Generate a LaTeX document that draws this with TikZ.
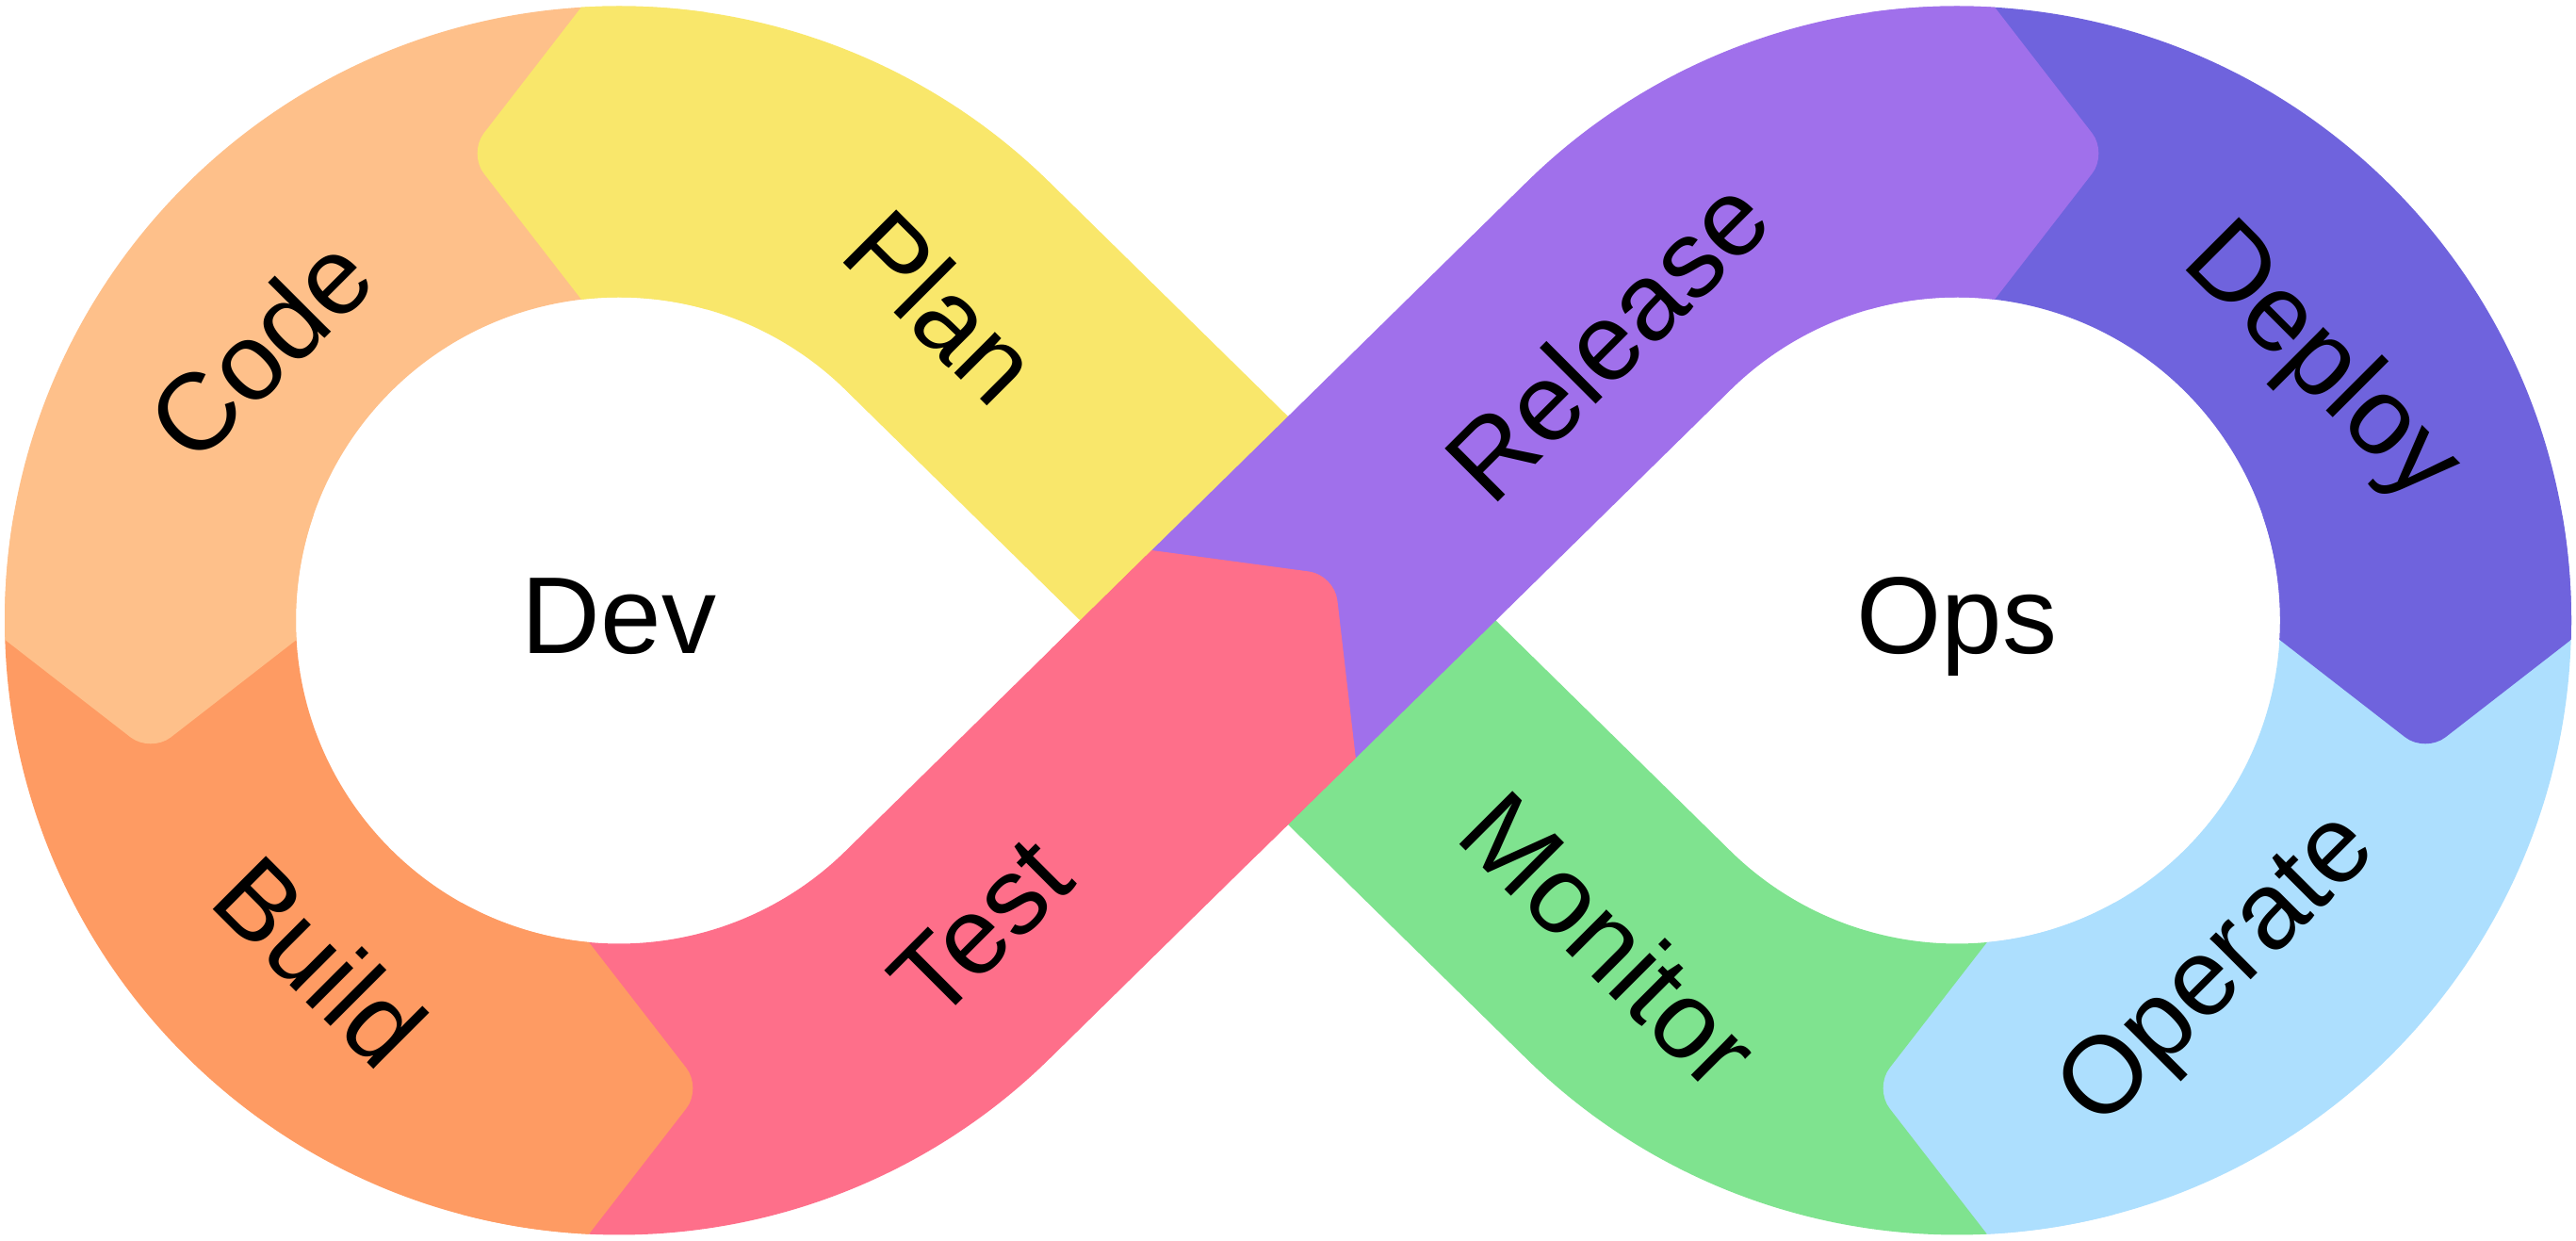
\documentclass[tikz,border=0pt]{standalone}
\usepackage{fontspec}
\setmainfont{Liberation Sans}
\definecolor{cCode}{HTML}{FEC08A}
\definecolor{cPlan}{HTML}{F9E76B}
\definecolor{cBuild}{HTML}{FE9B63}
\definecolor{cTest}{HTML}{FE6F8A}
\definecolor{cRel}{HTML}{A070EB}
\definecolor{cDep}{HTML}{6F63DD}
\definecolor{cOp}{HTML}{ADDFFE}
\definecolor{cMon}{HTML}{7FE38F}
\tikzset{
  lbl/.style={font=\fontsize{33}{40}\selectfont, text=black, inner sep=0pt},
  tip/.style={rounded corners=2.7mm}
}
\begin{document}
\begin{tikzpicture}
\useasboundingbox (0,0) rectangle (27.34,13.17);
\fill[white] (0,0) rectangle (27.34,13.17);

% loop centres and the crossing point
\coordinate (L) at (6.57,6.585);
\coordinate (R) at (20.77,6.585);
\coordinate (X) at (13.67,6.585);
% ends of the under-passing band, and the chord of the Test/Release joint
\coordinate (Pe) at (14.7526,7.6873);
\coordinate (Qe) at (12.5874,5.4827);
\coordinate (A) at (12.2235,7.3299);
\coordinate (B) at (14.3887,5.1253);

% ---- Dev loop ----
\fill[cCode] ([shift={(L)}]93.52:6.52) arc[start angle=93.52, end angle=181.80, radius=6.52]
  -- ([shift={(L)}]183.43:3.43) arc[start angle=183.43, end angle=96.70, radius=3.43] -- cycle;
\fill[cBuild] ([shift={(L)}]181.80:6.52) arc[start angle=181.80, end angle=267.19, radius=6.52]
  -- ([shift={(L)}]264.65:3.43) arc[start angle=264.65, end angle=183.43, radius=3.43] -- cycle;
\fill[cPlan] ([shift={(L)}]93.52:6.52) arc[start angle=93.52, end angle=45.516, radius=6.52]
  -- (Pe) -- (Qe)
  -- ([shift={(L)}]45.516:3.43) arc[start angle=45.516, end angle=96.70, radius=3.43] -- cycle;

% ---- Ops loop ----
\fill[cDep] ([shift={(R)}]86.48:6.52) arc[start angle=86.48, end angle=-1.80, radius=6.52]
  -- ([shift={(R)}]-3.43:3.43) arc[start angle=-3.43, end angle=83.30, radius=3.43] -- cycle;
\fill[cOp] ([shift={(R)}]-1.80:6.52) arc[start angle=-1.80, end angle=-87.19, radius=6.52]
  -- ([shift={(R)}]-84.65:3.43) arc[start angle=-84.65, end angle=-3.43, radius=3.43] -- cycle;
\fill[cMon] ([shift={(R)}]-87.19:6.52) arc[start angle=-87.19, end angle=-134.484, radius=6.52]
  -- (Qe) -- (Pe)
  -- ([shift={(R)}]-134.484:3.43) arc[start angle=-134.484, end angle=-84.65, radius=3.43] -- cycle;

% ---- the over-passing band ----
\fill[cRel] (A) -- ([shift={(R)}]134.484:6.52) arc[start angle=134.484, end angle=86.48, radius=6.52]
  -- ([shift={(R)}]83.30:3.43) arc[start angle=83.30, end angle=134.484, radius=3.43] -- (B) -- cycle;
\fill[cTest] (A) -- ([shift={(L)}]-45.516:3.43) arc[start angle=-45.516, end angle=-95.35, radius=3.43]
  -- ([shift={(L)}]-92.81:6.52) arc[start angle=-92.81, end angle=-45.516, radius=6.52] -- (B) -- cycle;

% ---- arrow-shaped joints ----
\begin{scope}
\clip ([shift={(L)}]60:6.52) arc[start angle=60,end angle=130,radius=6.52]
  -- ([shift={(L)}]130:3.43) arc[start angle=130,end angle=60,radius=3.43] -- cycle;
\fill[cPlan, tip] (4.97,11.542) -- (6.77,13.87) -- (7.5,13.87) -- (7.5,9.217) -- (6.77,9.217) -- cycle;
\end{scope}
\begin{scope}
\clip ([shift={(L)}]150:6.52) arc[start angle=150,end angle=215,radius=6.52]
  -- ([shift={(L)}]215:3.43) arc[start angle=215,end angle=150,radius=3.43] -- cycle;
\fill[cCode, tip] (1.5995,5.18) -- (3.919,6.98) -- (3.919,7.7) -- (-0.72,7.7) -- (-0.72,6.98) -- cycle;
\end{scope}
\begin{scope}
\clip ([shift={(L)}]235:6.52) arc[start angle=235,end angle=300,radius=6.52]
  -- ([shift={(L)}]300:3.43) arc[start angle=300,end angle=235,radius=3.43] -- cycle;
\fill[cBuild, tip] (7.45,1.6215) -- (5.65,3.944) -- (4.9,3.944) -- (4.9,-0.701) -- (5.65,-0.701) -- cycle;
\end{scope}
\begin{scope}
\clip ([shift={(R)}]50:6.52) arc[start angle=50,end angle=120,radius=6.52]
  -- ([shift={(R)}]120:3.43) arc[start angle=120,end angle=50,radius=3.43] -- cycle;
\fill[cRel, tip] (22.37,11.542) -- (20.57,13.87) -- (19.84,13.87) -- (19.84,9.217) -- (20.57,9.217) -- cycle;
\end{scope}
\begin{scope}
\clip ([shift={(R)}]-35:6.52) arc[start angle=-35,end angle=30,radius=6.52]
  -- ([shift={(R)}]30:3.43) arc[start angle=30,end angle=-35,radius=3.43] -- cycle;
\fill[cDep, tip] (25.7405,5.18) -- (23.421,6.98) -- (23.421,7.7) -- (28.06,7.7) -- (28.06,6.98) -- cycle;
\end{scope}
\begin{scope}
\clip ([shift={(R)}]240:6.52) arc[start angle=240,end angle=305,radius=6.52]
  -- ([shift={(R)}]305:3.43) arc[start angle=305,end angle=240,radius=3.43] -- cycle;
\fill[cOp, tip] (19.89,1.6215) -- (21.69,3.944) -- (22.44,3.944) -- (22.44,-0.701) -- (21.69,-0.701) -- cycle;
\end{scope}
\begin{scope}
\clip (14.157,9.2288) -- (16.3222,7.0242) -- (13.1830,3.9412) -- (11.0178,6.1458) -- cycle;
\fill[cTest, tip] (14.1623,7.0685) -- (14.5019,4.1537) -- (13.860,3.5231) -- (10.612,6.830) -- (11.2541,7.4606) -- cycle;
\end{scope}

% ---- labels ----
\node[lbl, rotate=45]  (code)    at (2.755,9.474) {Code};
\node[lbl, rotate=-45] (plan)    at (10.0,9.92)   {Plan};
\node[lbl, rotate=-45] (build)   at (3.40,2.97)   {Build};
\node[lbl, rotate=45]  (test)    at (10.41,3.32)  {Test};
\node[lbl, rotate=45]  (release) at (17.05,9.57)  {Release};
\node[lbl, rotate=-45] (deploy)  at (24.62,9.30)  {Deploy};
\node[lbl, rotate=45]  (operate) at (23.57,2.85)  {Operate};
\node[lbl, rotate=-45] (monitor) at (17.09,3.20)  {Monitor};
\node[lbl, anchor=base] (dev) at (6.57,6.23)  {Dev};
\node[lbl, anchor=base] (ops) at (20.77,6.23) {Ops};
\end{tikzpicture}
\end{document}
